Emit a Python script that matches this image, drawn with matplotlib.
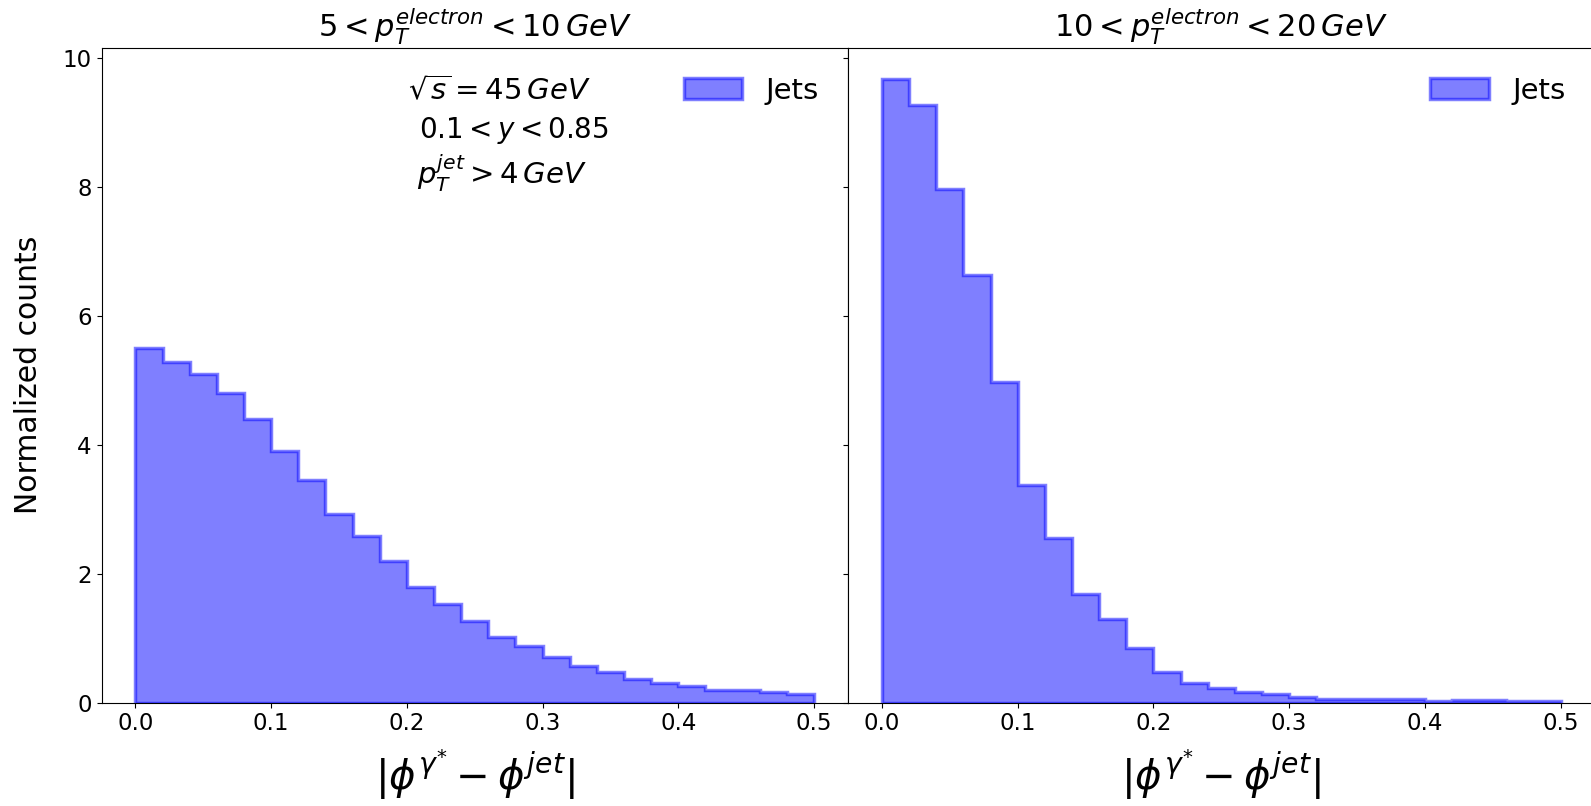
import numpy as np
import matplotlib
matplotlib.use("Agg")
import matplotlib.pyplot as plt

# bin edges of |phi_gamma* - phi_jet|
bin_edges = np.linspace(0.0, 0.5, 26)

# normalized counts per bin
low_pt_counts = [5.51, 5.29, 5.10, 4.81, 4.40, 3.91, 3.45, 2.93, 2.58, 2.19,
                 1.79, 1.53, 1.26, 1.02, 0.87, 0.71, 0.56, 0.47, 0.37, 0.30,
                 0.26, 0.20, 0.20, 0.17, 0.13]
high_pt_counts = [9.68, 9.27, 7.97, 6.64, 4.98, 3.38, 2.56, 1.68, 1.30, 0.84,
                  0.48, 0.30, 0.23, 0.16, 0.13, 0.08, 0.05, 0.06, 0.06, 0.06,
                  0.03, 0.035, 0.035, 0.025, 0.02]

panel_titles = [r"$5 < p_T^{electron} < 10\,GeV$", r"$10 < p_T^{electron} < 20\,GeV$"]
x_label = r"$|\phi^{\gamma^{*}} - \phi^{jet}|$"

plt.rcParams["mathtext.fontset"] = "dejavusans"

fig = plt.figure(figsize=(15.91, 8.06), dpi=100)
ax_left = fig.add_axes([0.0638, 0.1284, 0.4692, 0.8124])
ax_right = fig.add_axes([0.5330, 0.1284, 0.4692, 0.8124], sharey=ax_left)

centers = 0.5 * (bin_edges[:-1] + bin_edges[1:])
for ax, counts, title in zip([ax_left, ax_right], [low_pt_counts, high_pt_counts], panel_titles):
    ax.hist(centers, bins=bin_edges, weights=counts, histtype="stepfilled",
            color="blue", edgecolor="blue", alpha=0.5, linewidth=2.5, label="Jets")
    ax.set_title(title, fontsize=22, pad=8)
    ax.set_xlabel(x_label, fontsize=29, labelpad=8)
    ax.set_xticks([0.0, 0.1, 0.2, 0.3, 0.4, 0.5])
    ax.tick_params(labelsize=16.5)
    ax.legend(loc="upper right", frameon=False, fontsize=21, borderaxespad=0.6)

ax_left.set_ylabel("Normalized counts", fontsize=21.5, labelpad=14)
ax_left.set_yticks([0, 2, 4, 6, 8, 10])
plt.setp(ax_right.get_yticklabels(), visible=False)

ax_left.text(0.41, 0.933, r"$\sqrt{s} = 45\,GeV$", transform=ax_left.transAxes, fontsize=21, va="center")
ax_left.text(0.425, 0.874, r"$0.1 < y < 0.85$", transform=ax_left.transAxes, fontsize=20, va="center")
ax_left.text(0.422, 0.809, r"$p_T^{jet} > 4\,GeV$", transform=ax_left.transAxes, fontsize=21, va="center")

fig.savefig("out.png", dpi=100)
